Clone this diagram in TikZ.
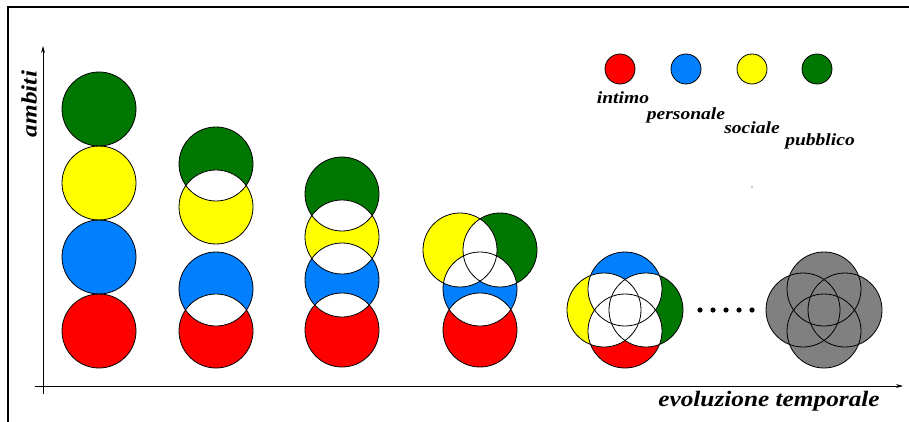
\documentclass[tikz,border=0pt]{standalone}
\usepackage{fontspec}
\usepackage{graphicx}
\setmainfont{Liberation Serif}
\newfontfamily\lblfont[FakeStretch=1.15]{Liberation Serif}
\usetikzlibrary{arrows.meta}
\definecolor{cRed}{RGB}{255,0,0}
\definecolor{cBlue}{RGB}{0,128,255}
\definecolor{cYellow}{RGB}{255,255,0}
\definecolor{cGreen}{RGB}{0,119,0}
\definecolor{cGray}{RGB}{128,128,128}
\newcommand\whitelens[3]{\begin{scope}\clip (#1) circle (#3);\fill[white] (#2) circle (#3);\end{scope}}
\tikzset{
  ring/.style={draw=black,line width=0.8pt},
  lbl/.style={font=\lblfont\bfseries\itshape\fontsize{17}{17}\selectfont,inner sep=0pt},
  axislbl/.style={font=\lblfont\bfseries\itshape\fontsize{22}{22}\selectfont,inner sep=0pt},
  axisline/.style={line width=0.9pt,-{Stealth[length=7pt,width=4pt]}},
  dotmark/.style={fill=black}
}
\begin{document}
\begin{tikzpicture}[x=1pt,y=-1pt]
\useasboundingbox (0,0) rectangle (909,422);
\fill[white] (0,0) rectangle (909,422);
% frame
\draw[line width=1.6pt] (8,430) -- (8,7) -- (915,7);
% axes
\coordinate (yb) at (43,394);
\coordinate (yt) at (43,46);
\coordinate (xl) at (35,386);
\coordinate (xr) at (903,386);
\draw[axisline] (yb) -- (yt);
\draw[axisline] (xl) -- (xr);
\node[axislbl,rotate=90] (ambiti) at (29,104) {ambiti};
\node[axislbl] (evol) at (769,401) {evoluzione temporale};
% column 1
\coordinate (g1) at (99,109);
\coordinate (y1) at (99,183);
\coordinate (b1) at (99,257);
\coordinate (r1) at (99,331);
\fill[cGreen] (g1) circle (37);
\fill[cYellow] (y1) circle (37);
\fill[cBlue] (b1) circle (37);
\fill[cRed] (r1) circle (37);
\foreach \c in {g1,y1,b1,r1} \draw[ring] (\c) circle (37);
% column 2
\coordinate (g2) at (216,164);
\coordinate (y2) at (216,207);
\coordinate (b2) at (216,289);
\coordinate (r2) at (216,331);
\fill[cGreen] (g2) circle (37);
\fill[cYellow] (y2) circle (37);
\fill[cBlue] (b2) circle (37);
\fill[cRed] (r2) circle (37);
\whitelens{g2}{y2}{37}
\whitelens{b2}{r2}{37}
\foreach \c in {g2,y2,b2,r2} \draw[ring] (\c) circle (37);
% column 3
\coordinate (g3) at (342,194);
\coordinate (y3) at (342,237);
\coordinate (b3) at (342,280);
\coordinate (r3) at (342,330);
\fill[cGreen] (g3) circle (37);
\fill[cYellow] (y3) circle (37);
\fill[cBlue] (b3) circle (37);
\fill[cRed] (r3) circle (37);
\whitelens{g3}{y3}{37}
\whitelens{y3}{b3}{37}
\whitelens{b3}{r3}{37}
\foreach \c in {g3,y3,b3,r3} \draw[ring] (\c) circle (37);
% column 4
\coordinate (y4) at (460,250);
\coordinate (g4) at (500,250);
\coordinate (b4) at (480,289);
\coordinate (r4) at (480,330);
\fill[cGreen] (g4) circle (37);
\fill[cYellow] (y4) circle (37);
\fill[cBlue] (b4) circle (37);
\fill[cRed] (r4) circle (37);
\whitelens{y4}{g4}{37}
\whitelens{y4}{b4}{37}
\whitelens{g4}{b4}{37}
\whitelens{b4}{r4}{37}
\foreach \c in {g4,y4,b4,r4} \draw[ring] (\c) circle (37);
% column 5
\coordinate (b5) at (625,289);
\coordinate (r5) at (625,331);
\coordinate (y5) at (604,310);
\coordinate (g5) at (646,310);
\fill[cGreen] (g5) circle (37);
\fill[cYellow] (y5) circle (37);
\fill[cBlue] (b5) circle (37);
\fill[cRed] (r5) circle (37);
\whitelens{b5}{r5}{37}
\whitelens{b5}{y5}{37}
\whitelens{b5}{g5}{37}
\whitelens{r5}{y5}{37}
\whitelens{r5}{g5}{37}
\whitelens{y5}{g5}{37}
\foreach \c in {g5,y5,b5,r5} \draw[ring] (\c) circle (37);
% dots
\foreach \i in {0,...,4} \fill[dotmark] (700+13*\i,310) circle (2.6);
% column 6
\coordinate (t6) at (824,289);
\coordinate (d6) at (824,331);
\coordinate (l6) at (803,310);
\coordinate (r6) at (845,310);
\foreach \c in {t6,d6,l6,r6} \fill[cGray] (\c) circle (37);
\foreach \c in {t6,d6,l6,r6} \draw[ring] (\c) circle (37);
% legend
\fill[cRed] (620,69) circle (15); \draw[ring] (620,69) circle (15);
\fill[cBlue] (686,69) circle (15); \draw[ring] (686,69) circle (15);
\fill[cYellow] (752,69) circle (15); \draw[ring] (752,69) circle (15);
\fill[cGreen] (817,69) circle (15); \draw[ring] (817,69) circle (15);
\node[lbl] (lint) at (623,98) {intimo};
\node[lbl] (lpers) at (686,115) {personale};
\node[lbl] (lsoc) at (752,128) {sociale};
\node[lbl] (lpub) at (820,141) {pubblico};
% stray speck
\fill[black] (752,187) circle (0.7);
\end{tikzpicture}
\end{document}
